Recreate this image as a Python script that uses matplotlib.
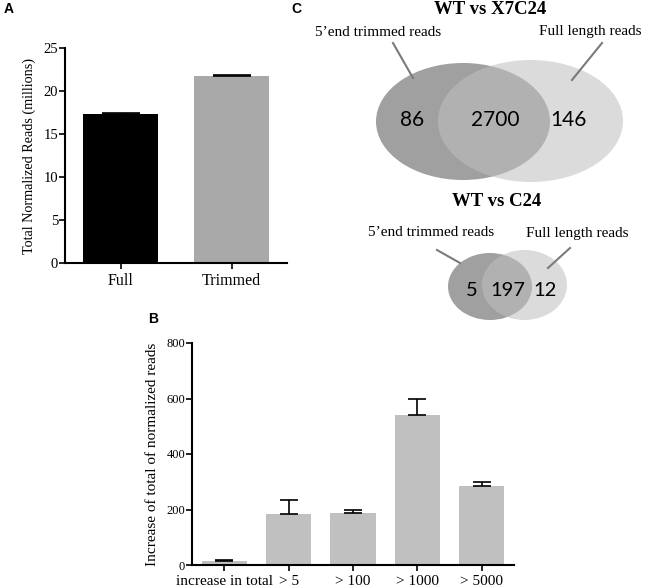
import matplotlib
matplotlib.use("Agg")
import matplotlib.pyplot as plt
from matplotlib.patches import Ellipse

# panel A data
a_labels = ["Full", "Trimmed"]
a_values = [17.3, 21.7]
a_errors = [0.2, 0.2]
a_colors = ["black", "#a9a9a9"]

# panel B data
b_labels = ["increase in total", "> 5", "> 100", "> 1000", "> 5000"]
b_values = [13, 185, 189, 540, 285]
b_errors = [4, 48, 11, 58, 13]

# panel C data
venn_big = [86, 2700, 146]
venn_small = [5, 197, 12]

W, H = 645, 587
fig = plt.figure(figsize=(W / 100, H / 100), dpi=100)
serif = "Liberation Serif"


def px_axes(x0, y0, x1, y1):
    return fig.add_axes([x0 / W, 1 - y1 / H, (x1 - x0) / W, (y1 - y0) / H])


def style(ax, ysize, xsize):
    for s in ["top", "right"]:
        ax.spines[s].set_visible(False)
    for s in ["left", "bottom"]:
        ax.spines[s].set_linewidth(1.5)
    ax.tick_params(width=1.2, length=4, direction="out")
    ax.tick_params(axis="y", pad=1)
    for lab in ax.get_yticklabels():
        lab.set_fontfamily(serif)
        lab.set_fontsize(ysize)
    for lab in ax.get_xticklabels():
        lab.set_fontfamily(serif)
        lab.set_fontsize(xsize)


# ---- panel A
axA = px_axes(65, 48, 287, 263)
xa = range(len(a_values))
axA.bar(xa, a_values, width=0.67, color=a_colors)
axA.errorbar(xa, a_values, yerr=[[0] * len(a_errors), a_errors], fmt="none",
             ecolor="black", elinewidth=1.2, capsize=13.5, capthick=1.2)
axA.set_xlim(-0.5, 1.5)
axA.set_ylim(0, 25)
axA.set_yticks([0, 5, 10, 15, 20, 25])
axA.set_xticks(list(xa))
axA.set_xticklabels(a_labels)
axA.set_ylabel("Total Normalized Reads (millions)", fontfamily=serif, fontsize=10.2, labelpad=5)
style(axA, 10.5, 11.5)

# ---- panel B
axB = px_axes(192, 343, 514, 565)
xb = range(len(b_values))
axB.bar(xb, b_values, width=0.70, color="#c0c0c0")
axB.errorbar(xb, b_values, yerr=[[0] * len(b_errors), b_errors], fmt="none",
             ecolor="black", elinewidth=1.2, capsize=6.8, capthick=1.2)
axB.set_xlim(-0.5, 4.5)
axB.set_ylim(0, 800)
axB.set_yticks([0, 200, 400, 600, 800])
axB.set_xticks(list(xb))
axB.set_xticklabels(b_labels)
axB.set_ylabel("Increase of total of normalized reads", fontfamily=serif, fontsize=11, labelpad=5)
style(axB, 9, 11)

# ---- panel C (venn diagrams, drawn in pixel space)
axC = fig.add_axes([0, 0, 1, 1], zorder=-1)
axC.set_xlim(0, W)
axC.set_ylim(H, 0)
axC.axis("off")

line_col = "#7a7a7a"


def venn(cl, cr, wl, hl, wr, hr, counts, xs, y, fs):
    axC.add_patch(Ellipse(cl, wl, hl, facecolor="#a0a0a0", edgecolor="none"))
    axC.add_patch(Ellipse(cr, wr, hr, facecolor="#c0c0c0", alpha=0.56, edgecolor="none"))
    for c, x in zip(counts, xs):
        axC.text(x, y, str(c), ha="center", va="center", fontsize=fs, fontfamily="Lato")


venn((463, 121.5), (530.5, 121), 174, 117, 185, 122, venn_big, [412, 495, 568], 120, 15)
venn((490, 286.5), (524.5, 285), 84, 67, 85, 70, venn_small, [472, 508, 545], 290, 14.5)

axC.text(490, 10, "WT vs X7C24", ha="center", va="center", fontfamily=serif,
         fontweight="bold", fontsize=13.5)
axC.text(497, 202, "WT vs C24", ha="center", va="center", fontfamily=serif,
         fontweight="bold", fontsize=13.5)
axC.text(378, 33, "5\u2019end trimmed reads", ha="center", va="center", fontfamily=serif, fontsize=11)
axC.text(590, 31, "Full length reads", ha="center", va="center", fontfamily=serif, fontsize=11)
axC.text(431, 233, "5\u2019end trimmed reads", ha="center", va="center", fontfamily=serif, fontsize=11)
axC.text(577, 233, "Full length reads", ha="center", va="center", fontfamily=serif, fontsize=11)

axC.plot([393, 413], [43, 78], color=line_col, lw=1.5)
axC.plot([602, 572], [43, 80], color=line_col, lw=1.5)
axC.plot([437, 460], [250, 263], color=line_col, lw=1.5)
axC.plot([570, 548], [248, 268], color=line_col, lw=1.5)

# panel letters
for letter, x, y in [("A", 9, 9), ("B", 153, 319), ("C", 296, 9)]:
    axC.text(x, y, letter, ha="center", va="center", fontfamily="Liberation Sans",
             fontweight="bold", fontsize=10)

fig.savefig("out.png", dpi=100)
